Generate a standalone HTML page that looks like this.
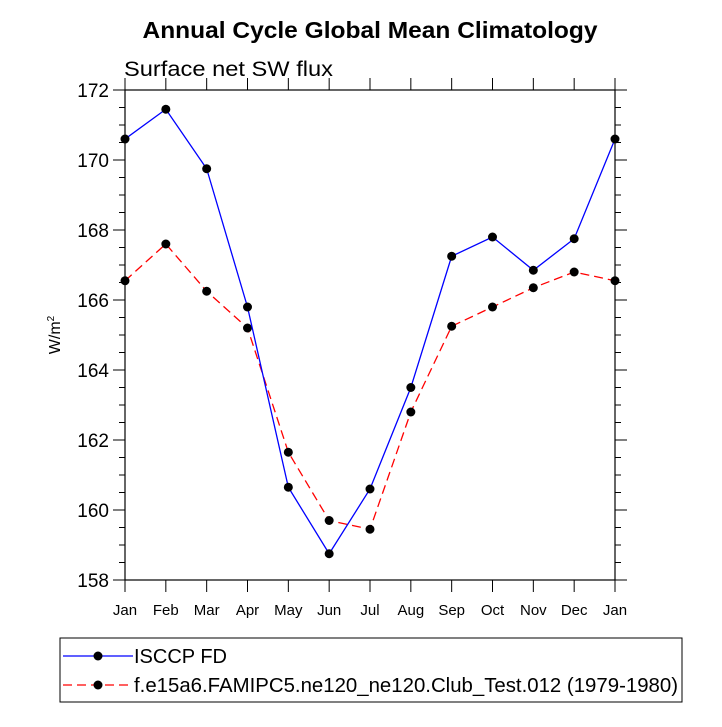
<!DOCTYPE html>
<html><head><meta charset="utf-8"><style>
body{margin:0;background:#fff;}
svg text{font-family:"Liberation Sans",Arial,sans-serif;}
</style></head><body>
<svg id="chart" width="722" height="722" viewBox="0 0 722 722" xmlns="http://www.w3.org/2000/svg">
<rect width="722" height="722" fill="#fff"/>
<text x="370" y="38" text-anchor="middle" font-size="23" font-weight="bold" textLength="455" lengthAdjust="spacingAndGlyphs">Annual Cycle Global Mean Climatology</text>
<text x="124" y="76" font-size="21" textLength="209" lengthAdjust="spacingAndGlyphs">Surface net SW flux</text>
<text transform="translate(60,335) rotate(-90)" text-anchor="middle" font-size="16">W/m<tspan dy="-6" font-size="10">2</tspan></text>
<g id="axes"></g>
<g id="series"></g>
<g>
<rect x="60" y="638" width="622" height="64" fill="none" stroke="#000" stroke-width="1"/>
<line x1="63" y1="656" x2="133" y2="656" stroke="#0000ff" stroke-width="1.3"/>
<circle cx="98" cy="656" r="4.5" fill="#000"/>
<text x="134" y="663" font-size="20" textLength="93" lengthAdjust="spacingAndGlyphs">ISCCP FD</text>
<line x1="63" y1="685" x2="133" y2="685" stroke="#ff0000" stroke-width="1.3" stroke-dasharray="9,5"/>
<circle cx="98" cy="685" r="4.5" fill="#000"/>
<text x="134" y="692" font-size="20" textLength="544" lengthAdjust="spacingAndGlyphs">f.e15a6.FAMIPC5.ne120_ne120.Club_Test.012 (1979-1980)</text>
</g>
</svg>
<script>
const months=["Jan","Feb","Mar","Apr","May","Jun","Jul","Aug","Sep","Oct","Nov","Dec","Jan"];
const isccp=[170.6,171.45,169.75,165.8,160.65,158.75,160.6,163.5,167.25,167.8,166.85,167.75,170.6];
const model=[166.55,167.6,166.25,165.2,161.65,159.7,159.45,162.8,165.25,165.8,166.35,166.8,166.55];
const yTicks=[158,160,162,164,166,168,170,172];
const NS="http://www.w3.org/2000/svg";
const L=125,R=615,T=90,B=580,yMin=158,yMax=172;
function xs(i){return L+(R-L)*i/(months.length-1);}
function ys(v){return B-(v-yMin)/(yMax-yMin)*(B-T);}
function mk(tag,attrs,parent){const e=document.createElementNS(NS,tag);for(const k in attrs)e.setAttribute(k,attrs[k]);parent.appendChild(e);return e;}
const ax=document.getElementById('axes');
const frame=mk('rect',{x:L,y:T,width:R-L,height:B-T,fill:'none',stroke:'#000','stroke-width':1.2},ax);


for(let v=yMin;v<=yMax+1e-9;v+=0.5){
  const y=ys(v);const major=Math.abs(v-Math.round(v/2)*2)<1e-9;const len=major?12:6;
  mk('line',{x1:L-len,y1:y,x2:L,y2:y,stroke:'#000','stroke-width':1},ax);
  mk('line',{x1:R,y1:y,x2:R+len,y2:y,stroke:'#000','stroke-width':1},ax);
}
yTicks.forEach(v=>{
  const t=mk('text',{x:L-16,y:ys(v)+7,'text-anchor':'end','font-size':19},ax);
  t.textContent=v;
  
  
});
months.forEach((m,i)=>{
  const x=xs(i);
  mk('line',{x1:x,y1:B,x2:x,y2:B+12,stroke:'#000','stroke-width':1},ax);
  mk('line',{x1:x,y1:T-12,x2:x,y2:T,stroke:'#000','stroke-width':1},ax);
  const t=mk('text',{x:x,y:B+35,'text-anchor':'middle','font-size':15},ax);
  t.textContent=m;
  
  
});
const sg=document.getElementById('series');
function draw(vals,color,dash,name){
  const pts=vals.map((v,i)=>xs(i)+','+ys(v)).join(' ');
  const pl=mk('polyline',{points:pts,fill:'none',stroke:color,'stroke-width':1.3},sg);
  if(dash)pl.setAttribute('stroke-dasharray',dash);
  
  
  vals.forEach((v,i)=>{
    const c=mk('circle',{cx:xs(i),cy:ys(v),r:4.5,fill:'#000'},sg);
    
    
  });
}
draw(model,'#ff0000','9,5','model');
draw(isccp,'#0000ff',null,'isccp');
</script>
</body></html>
